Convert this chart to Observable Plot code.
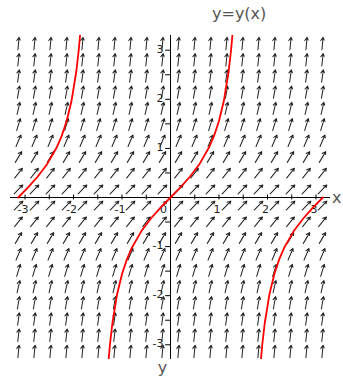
<!DOCTYPE html>
<html><head><meta charset="utf-8">
<script src="https://cdn.jsdelivr.net/npm/d3@7"></script>
<script src="https://cdn.jsdelivr.net/npm/@observablehq/plot@0.6"></script>
<style>
body{margin:0;background:#fff;font-family:"DejaVu Sans",sans-serif;overflow:hidden;}
#title{height:26px;line-height:28px;padding-left:212px;font-size:16px;color:#555;}
</style></head><body>
<div id="title">y=y(x)</div>
<div id="chart"></div>
<script>
// direction field grid (20 x 20)
const colX = [-3.135,-2.805,-2.475,-2.145,-1.815,-1.485,-1.155,-0.825,-0.495,-0.165,0.165,0.495,0.825,1.155,1.485,1.815,2.145,2.475,2.805,3.135];
const rowY = [-3.135,-2.805,-2.475,-2.145,-1.815,-1.485,-1.155,-0.825,-0.495,-0.165,0.165,0.495,0.825,1.155,1.485,1.815,2.145,2.475,2.805,3.135];
const rowSlope = [10.83,8.87,7.13,5.60,4.29,3.21,2.33,1.68,1.25,1.03,1.03,1.25,1.68,2.33,3.21,4.29,5.60,7.13,8.87,10.83];

// solution curve branches
const leftX  = [-3.142,-2.942,-2.742,-2.542,-2.342,-2.242,-2.142,-2.042,-1.942,-1.892,-1.865];
const leftY  = [0,0.203,0.423,0.684,1.030,1.260,1.557,1.965,2.572,3.010,3.305];
const midX   = [-1.277,-1.25,-1.2,-1.1,-1.0,-0.9,-0.8,-0.6,-0.4,-0.2,0,0.2,0.4,0.6,0.8,0.9,1.0,1.1,1.2,1.25,1.277];
const midY   = [-3.305,-3.010,-2.572,-1.965,-1.557,-1.260,-1.030,-0.684,-0.423,-0.203,0,0.203,0.423,0.684,1.030,1.260,1.557,1.965,2.572,3.010,3.305];
const rightX = [1.865,1.892,1.942,2.042,2.142,2.242,2.342,2.542,2.742,2.942,3.142];
const rightY = [-3.305,-3.010,-2.572,-1.965,-1.557,-1.260,-1.030,-0.684,-0.423,-0.203,0];

// ticks
const xMajor = [-3,-2,-1,1,2,3];
const xMajorLabels = ["-3","-2","-1","1","2","3"];
const xMinor = [-3,-2.5,-2,-1.5,-1,-0.5,0.5,1,1.5,2,2.5,3];
const yMajor = [-3,-2,-1,1,2,3];
const yMajorLabels = ["-3","-2","-1","1","2","3"];
const yMinor = [-3,-2.5,-2,-1.5,-1,-0.5,0.5,1,1.5,2,2.5,3];

const field = [];
rowY.forEach((y, j) => colX.forEach(x => field.push({x, y, s: rowSlope[j]})));
const curve = [];
leftX.forEach((x, i) => curve.push({x, y: leftY[i], b: "L"}));
midX.forEach((x, i) => curve.push({x, y: midY[i], b: "M"}));
rightX.forEach((x, i) => curve.push({x, y: rightY[i], b: "R"}));

const smallArrow = {
  draw(context, l) {
    context.moveTo(0, 0);
    context.lineTo(0, -l);
    context.moveTo(-2, -l + 3.4);
    context.lineTo(0, -l);
    context.lineTo(1.4, -l + 2.6);
  }
};

const chart = Plot.plot({
  width: 343,
  height: 357,
  marginTop: 9,
  marginBottom: 24,
  marginLeft: 10,
  marginRight: 13,
  x: {domain: [-3.3, 3.3], axis: null},
  y: {domain: [-3.3, 3.3], axis: null},
  style: {background: "#fff", fontFamily: "DejaVu Sans, sans-serif", overflow: "visible"},
  marks: [
    Plot.vector(field, {x: "x", y: "y", rotate: d => 90 - Math.atan(d.s) * 180 / Math.PI, length: 12.5, anchor: "middle", shape: smallArrow, stroke: "#222", strokeWidth: 1}),
    Plot.ruleY([0], {stroke: "#000", strokeWidth: 1}),
    Plot.ruleX([0], {stroke: "#000", strokeWidth: 1}),
    Plot.ruleX(xMinor, {x: d => d, y1: -0.05, y2: 0.05, stroke: "#000"}),
    Plot.ruleY(yMinor, {y: d => d, x1: -0.1, x2: 0, stroke: "#000"}),
    Plot.text(xMajor, {x: d => d, y: 0, text: (d, i) => xMajorLabels[i], dy: 12, dx: -2, fontSize: 11, fill: "#222"}),
    Plot.text([0], {x: d => d, y: 0, text: () => "0", dy: 12, dx: -7, fontSize: 11, fill: "#222"}),
    Plot.text(yMajor, {x: 0, y: d => d, text: (d, i) => yMajorLabels[i], dx: -7, dy: -1, textAnchor: "end", fontSize: 11, fill: "#222"}),
    Plot.line(curve, {x: "x", y: "y", z: "b", stroke: "#ff0000", strokeWidth: 1.8, clip: true}),
    Plot.text(["x"], {y: 0, frameAnchor: "right", text: d => d, dx: 11, fontSize: 16, fill: "#555"}),
    Plot.text(["y"], {x: 0, frameAnchor: "bottom", text: d => d, dx: -8, dy: 13, fontSize: 16, fill: "#555"})
  ]
});
document.getElementById("chart").appendChild(chart);
</script>
</body></html>
